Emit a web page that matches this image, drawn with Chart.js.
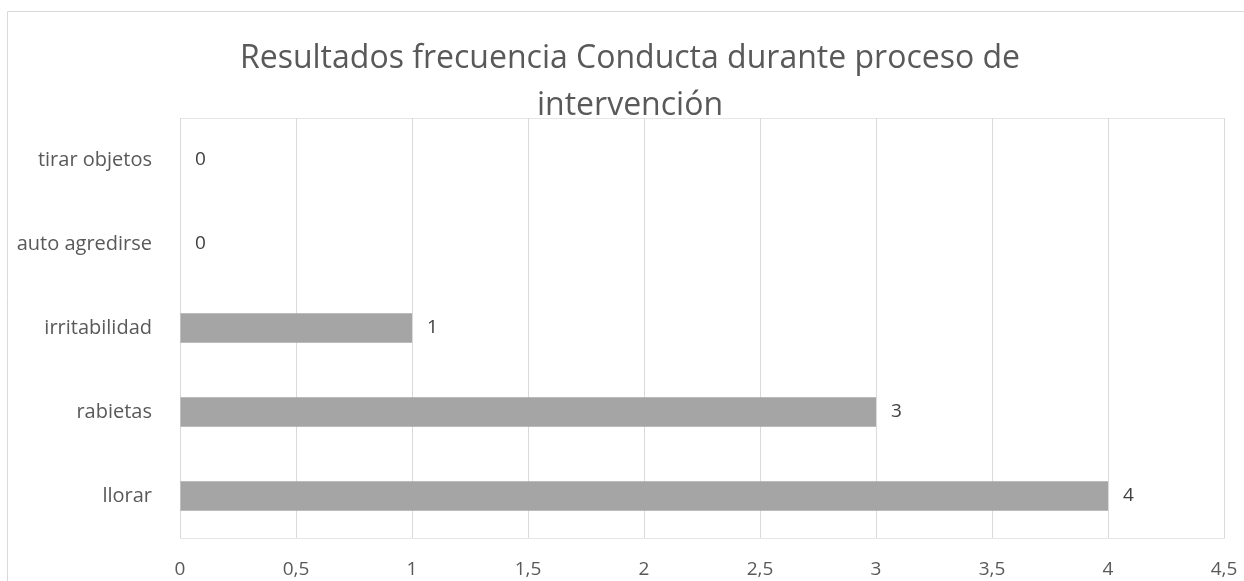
<!DOCTYPE html>
<html>
<head>
<meta charset="utf-8">
<script src="https://cdn.jsdelivr.net/npm/chart.js@4"></script>
<style>
  html, body { margin: 0; padding: 0; background: #ffffff; }
  #wrap { position: absolute; left: 0; top: 0; width: 1244px; height: 581px; }
</style>
</head>
<body>
<div id="wrap"><canvas id="myChart" width="1244" height="581"></canvas></div>
<script>
const categories = ["tirar objetos", "auto agredirse", "irritabilidad", "rabietas", "llorar"];
const values = [0, 0, 1, 3, 4];
const xTickLabels = ["0", "0,5", "1", "1,5", "2", "2,5", "3", "3,5", "4", "4,5"];
const titleLines = ["Resultados frecuencia Conducta durante proceso de", "intervención"];

const grey = "#595959";
const gridGrey = "#D9D9D9";
const barGrey = "#A5A5A5";

// outer chart frame + plot area box
const frame = {
  id: "frame",
  beforeDraw(chart) {
    const c = chart.ctx;
    const a = chart.chartArea;
    c.save();
    c.strokeStyle = gridGrey;
    c.lineWidth = 1;
    c.beginPath();
    c.moveTo(7.5, 581);
    c.lineTo(7.5, 11.5);
    c.lineTo(1244, 11.5);
    c.stroke();
    c.strokeStyle = "#E6E6E6";
    c.strokeRect(Math.round(a.left) + 0.5, Math.round(a.top) + 0.5, Math.round(a.right - a.left), Math.round(a.bottom - a.top));
    c.restore();
  }
};

// value labels at the end of each bar
const barLabels = {
  id: "barLabels",
  afterDatasetsDraw(chart) {
    const c = chart.ctx;
    const meta = chart.getDatasetMeta(0);
    c.save();
    c.font = "19px 'Open Sans'";
    c.fillStyle = "#404040";
    c.textAlign = "left";
    c.textBaseline = "middle";
    meta.data.forEach((el, i) => {
      c.fillText(String(values[i]).replace(".", ","), el.x + 15, el.y);
    });
    c.restore();
  }
};

const ctx = document.getElementById("myChart").getContext("2d");
Chart.defaults.font.family = "'Open Sans', sans-serif";
Chart.defaults.color = grey;

new Chart(ctx, {
  type: "bar",
  data: {
    labels: categories,
    datasets: [{
      data: values,
      backgroundColor: barGrey,
      barPercentage: 0.35,
      categoryPercentage: 1
    }]
  },
  options: {
    indexAxis: "y",
    responsive: false,
    animation: false,
    layout: { padding: { left: 16, right: 0, top: 0, bottom: 0 } },
    plugins: {
      legend: { display: false },
      tooltip: { enabled: false },
      title: {
        display: true,
        text: titleLines,
        color: grey,
        font: { size: 32, weight: "normal", lineHeight: 1.47 },
        padding: { top: 35, bottom: -11 }
      }
    },
    scales: {
      x: {
        min: 0,
        max: 4.5,
        afterFit: s => { s.height = 43; s.paddingLeft = 0; s.paddingRight = 20; },
        ticks: {
          stepSize: 0.5,
          color: grey,
          font: { size: 19 },
          padding: 20,
          maxRotation: 0,
          callback: (v, i) => xTickLabels[i]
        },
        grid: { color: gridGrey, drawTicks: false },
        border: { display: false }
      },
      y: {
        afterFit: s => { s.width = 164; },
        ticks: { color: grey, font: { size: 20 }, padding: 28 },
        grid: { display: false, drawTicks: false },
        border: { display: false }
      }
    }
  },
  plugins: [frame, barLabels]
});
</script>
</body>
</html>
